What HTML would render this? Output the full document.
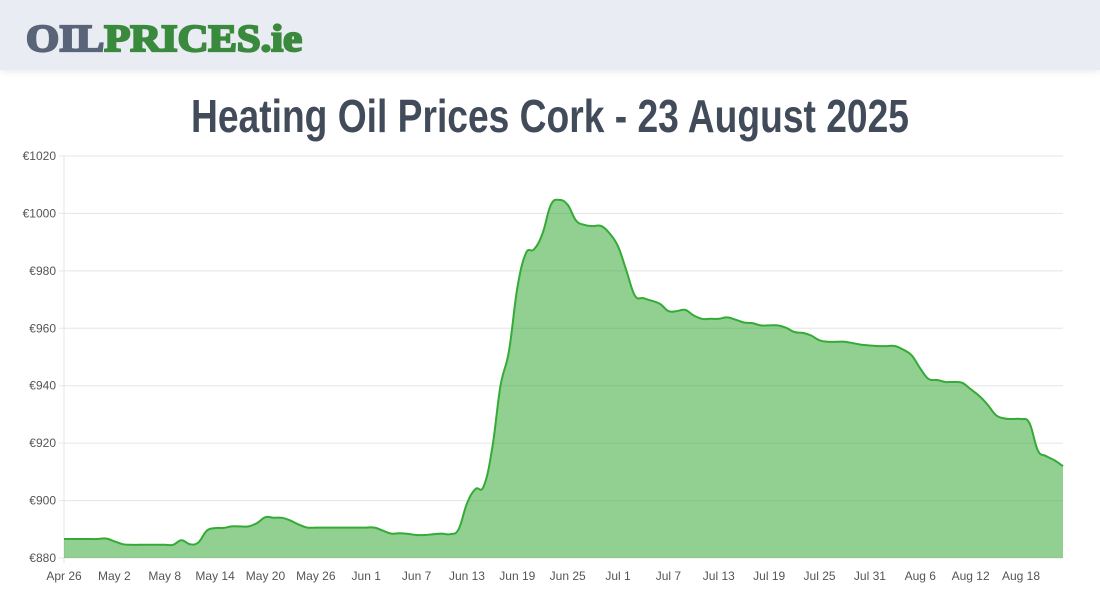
<!DOCTYPE html>
<html><head><meta charset="utf-8"><style>
html,body{margin:0;padding:0;width:1100px;height:600px;overflow:hidden;background:#fff;font-family:"Liberation Sans",sans-serif}
#hdr{position:absolute;left:0;top:0;width:1100px;height:70px;background:#e9ecf3;box-shadow:0 2px 6px rgba(0,0,0,0.08)}
svg{position:absolute;left:0;top:0}
</style></head><body>
<div id="hdr"></div>
<svg width="1100" height="600" id="chart">
<text x="26" y="51" textLength="276" lengthAdjust="spacingAndGlyphs" font-family="Liberation Serif,serif" font-weight="bold" font-size="38" stroke-width="2.2"><tspan fill="#5a6478" stroke="#5a6478">OIL</tspan><tspan fill="#3a8a3e" stroke="#3a8a3e">PRICES.ie</tspan></text>
<text x="191" y="132" textLength="718" lengthAdjust="spacingAndGlyphs" font-family="Liberation Sans Narrow,Liberation Sans,sans-serif" font-weight="bold" font-size="46" fill="#424b5a">Heating Oil Prices Cork - 23 August 2025</text>
<g id="grid"></g><g id="plot"></g><g id="axes"></g>
</svg>
<script>
const yTicks=[880,900,920,940,960,980,1000,1020];
const xTickLabels=["Apr 26","May 2","May 8","May 14","May 20","May 26","Jun 1","Jun 7","Jun 13","Jun 19","Jun 25","Jul 1","Jul 7","Jul 13","Jul 19","Jul 25","Jul 31","Aug 6","Aug 12","Aug 18"];
const prices=[886.6,886.6,886.6,886.6,886.6,886.8,885.8,884.8,884.6,884.6,884.6,884.6,884.6,884.6,886.2,884.8,885.4,889.5,890.4,890.5,
891,891,891,892.2,894.2,894,894,893,891.6,890.6,890.6,890.6,890.6,890.6,890.6,890.6,890.6,890.6,889.5,888.5,
888.6,888.4,888,888,888.3,888.5,888.3,890,899,904,905,918,940,952,974,986,987.5,993,1003,
1004.7,1003,997.5,996,995.6,995.6,993,988.5,980,971.4,970.5,969.6,968.5,966,966,966.4,964.5,963.3,963.3,963.3,
963.8,963,962,961.8,961,961,961,960.2,958.7,958.4,957.5,955.8,955.3,955.3,955.3,954.8,954.3,954,953.8,953.8,
953.8,952.5,950.5,946,942.3,942,941.3,941.3,941,938.8,936.5,933.5,929.8,928.6,928.4,928.4,927,917.5,915.5,914,912];
const NS="http://www.w3.org/2000/svg";
const X0=64,X1=1063,Y0=558,Y1=156,YMIN=880,YMAX=1020;
const xs=i=>X0+(X1-X0)*i/(prices.length-1);
const ys=v=>Y0-(v-YMIN)/(YMAX-YMIN)*(Y0-Y1);
function mk(t,a,p){const e=document.createElementNS(NS,t);for(const k in a)e.setAttribute(k,a[k]);p.appendChild(e);return e;}
const grid=document.getElementById('grid'),axes=document.getElementById('axes'),plot=document.getElementById('plot');
yTicks.forEach(v=>{
 const l=mk('line',{x1:X0-5,x2:X1,y1:ys(v),y2:ys(v),stroke:'#e5e5e5','stroke-width':1},grid);
 
 
 const t=mk('text',{x:X0-8,y:ys(v)+4,'text-anchor':'end','font-size':12,fill:'#555'},axes);
 t.textContent='€'+v;
 
 
});
const vx=mk('line',{x1:X0,x2:X0,y1:Y1,y2:Y0+5,stroke:'#e5e5e5'},grid);


xTickLabels.forEach((s,i)=>{
 const t=mk('text',{x:xs(i*6),y:580,'text-anchor':'middle','font-size':12,fill:'#555'},axes);
 t.textContent=s;
 
 
});
const pts=prices.map((v,i)=>[xs(i),ys(v)]);
let d='M'+pts[0][0]+','+pts[0][1];
const k=0.2;
for(let i=0;i<pts.length-1;i++){
 const p0=pts[Math.max(0,i-1)],p1=pts[i],p2=pts[i+1],p3=pts[Math.min(pts.length-1,i+2)];
 const c1=[p1[0]+(p2[0]-p0[0])*k,p1[1]+(p2[1]-p0[1])*k];
 const c2=[p2[0]-(p3[0]-p1[0])*k,p2[1]-(p3[1]-p1[1])*k];
 d+=' C'+c1[0].toFixed(1)+','+c1[1].toFixed(1)+' '+c2[0].toFixed(1)+','+c2[1].toFixed(1)+' '+p2[0].toFixed(1)+','+p2[1].toFixed(1);
}
const area=mk('path',{d:d+' L'+X1+','+Y0+' L'+X0+','+Y0+' Z',fill:'rgba(52,168,52,0.54)'},plot);


const line=mk('path',{d:d,fill:'none',stroke:'#34ab36','stroke-width':2},plot);


</script>
</body></html>
